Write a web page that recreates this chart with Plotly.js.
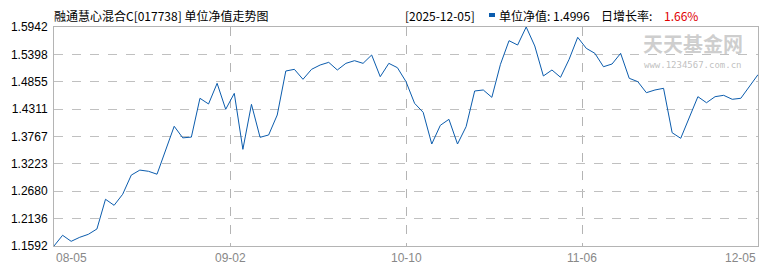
<!DOCTYPE html>
<html>
<head>
<meta charset="utf-8">
<script src="https://cdn.plot.ly/plotly-3.0.1.min.js"></script>
<style>html,body{margin:0;padding:0;background:#fff;}#chart{width:770px;height:270px;}</style>
</head>
<body>
<div id="chart"></div>
<script>
// ---- data ----
const fundTitle = "融通慧心混合C[017738] 单位净值走势图";
const latestDate = "2025-12-05";
const navValues = [
  1.1592, 1.1805, 1.1685, 1.1765, 1.1824, 1.1930, 1.2520, 1.2400, 1.2620, 1.3000,
  1.3100, 1.3076, 1.3018, 1.3490, 1.3970, 1.3740, 1.3755, 1.4526, 1.4413, 1.4823,
  1.4307, 1.4624, 1.3512, 1.4406, 1.3751, 1.3797, 1.4194, 1.5068, 1.5101, 1.4903,
  1.5101, 1.5187, 1.5240, 1.5088, 1.5220, 1.5273, 1.5220, 1.5386, 1.4955, 1.5220,
  1.5134, 1.4856, 1.4426, 1.4247, 1.3618, 1.3989, 1.4108, 1.3618, 1.3962, 1.4671,
  1.4691, 1.4545, 1.5200, 1.5670, 1.5584, 1.5942, 1.5565, 1.4969, 1.5088, 1.4943,
  1.5300, 1.5737, 1.5518, 1.5419, 1.5153, 1.5207, 1.5419, 1.4923, 1.4856, 1.4637,
  1.4691, 1.4724, 1.3842, 1.3731, 1.4129, 1.4558, 1.4438, 1.4558, 1.4585, 1.4506,
  1.4526, 1.4751, 1.4996
];
const xTickLabels = ["08-05", "09-02", "10-10", "11-06", "12-05"];
const yTickLabels = ["1.1592", "1.2136", "1.2680", "1.3223", "1.3767", "1.4311", "1.4855", "1.5398", "1.5942"];

// ---- build ----
const n = navValues.length;
const xIdx = navValues.map((_, i) => i);
const last = navValues[n - 1];
const prev = navValues[n - 2];
const growth = ((last / prev - 1) * 100).toFixed(2) + "%";

const W = 770, H = 270, L = 54, R = 12, T = 27, B = 24;
const PW = W - L - R, PH = H - T - B;
const px = x => (x - L) / PW;
const py = y => (H - B - y) / PH;

const xTickPos = xTickLabels.map((_, i) => (n - 1) * i / (xTickLabels.length - 1));
const yTickVals = yTickLabels.map(s => parseFloat(s));

const annotations = [];
// x labels
xTickLabels.forEach((t, i) => {
  annotations.push({
    x: xTickPos[i], xref: 'x', y: 0, yref: 'paper',
    text: t, showarrow: false,
    xanchor: i === 0 ? 'left' : (i === xTickLabels.length - 1 ? 'right' : 'center'),
    yanchor: 'top', yshift: -3,
    font: {family: 'Liberation Sans, Arial, sans-serif', size: 12, color: '#888888'}
  });
});
const hdrFont = {family: 'Noto Sans CJK SC, sans-serif', size: 12, color: '#000'};
annotations.push({x: px(52), xref: 'paper', y: py(15), yref: 'paper', xanchor: 'left', yanchor: 'middle',
  text: fundTitle, showarrow: false, font: hdrFont});
annotations.push({x: px(403), xref: 'paper', y: py(15), yref: 'paper', xanchor: 'left', yanchor: 'middle',
  text: "[" + latestDate + "]", showarrow: false, font: hdrFont});
annotations.push({x: px(497), xref: 'paper', y: py(15), yref: 'paper', xanchor: 'left', yanchor: 'middle',
  text: "单位净值: " + last.toFixed(4), showarrow: false, font: hdrFont});
annotations.push({x: px(599), xref: 'paper', y: py(15), yref: 'paper', xanchor: 'left', yanchor: 'middle',
  text: "日增长率:", showarrow: false, font: hdrFont});
annotations.push({x: px(662), xref: 'paper', y: py(15), yref: 'paper', xanchor: 'left', yanchor: 'middle',
  text: growth, showarrow: false, font: {family: 'Noto Sans CJK SC, sans-serif', size: 12, color: '#e00000'}});
// watermark
annotations.push({x: px(693), xref: 'paper', y: py(43.5), yref: 'paper', xanchor: 'center', yanchor: 'middle',
  text: "<b>天天基金网</b>", showarrow: false, borderpad: 0,
  font: {family: 'Noto Sans CJK SC, sans-serif', size: 20, color: 'rgba(190,190,190,0.75)'}});
annotations.push({x: px(693), xref: 'paper', y: py(64.5), yref: 'paper', xanchor: 'center', yanchor: 'middle',
  text: "www.1234567.com.cn", showarrow: false, borderpad: 0,
  font: {family: 'DejaVu Sans Mono, monospace', size: 9, color: 'rgba(180,180,180,0.85)'}});

const trace = {
  x: xIdx, y: navValues, type: 'scatter', mode: 'lines',
  line: {color: '#0b5cad', width: 1}, hoverinfo: 'skip'
};

const layout = {
  width: W, height: H,
  margin: {l: L, r: R, t: T, b: B, pad: 0},
  paper_bgcolor: '#fff', plot_bgcolor: '#fff',
  showlegend: false,
  xaxis: {
    range: [0, n - 1], tickvals: xTickPos.slice(1, -1), showticklabels: false,
    showgrid: true, gridcolor: '#b4b4b4', griddash: 'dash', gridwidth: 1,
    zeroline: false, showline: true, linecolor: '#b4b4b4', linewidth: 1, mirror: true,
    ticks: '', fixedrange: true
  },
  yaxis: {
    range: [yTickVals[0], yTickVals[yTickVals.length - 1]],
    tickvals: yTickVals, ticktext: yTickLabels,
    showgrid: true, gridcolor: '#c0c0c0', griddash: 'dash', gridwidth: 1,
    zeroline: false, showline: true, linecolor: '#b4b4b4', linewidth: 1, mirror: true,
    ticks: '', ticklabelstandoff: 3,
    tickfont: {family: 'Liberation Sans, Arial, sans-serif', size: 12, color: '#000'},
    fixedrange: true
  },
  shapes: [{type: 'rect', xref: 'paper', yref: 'paper',
    x0: px(489), x1: px(495), y0: py(17), y1: py(13),
    fillcolor: '#0b5cad', line: {width: 0}}],
  annotations: annotations
};

Plotly.newPlot('chart', [trace], layout, {displayModeBar: false, staticPlot: true});
</script>
</body>
</html>
